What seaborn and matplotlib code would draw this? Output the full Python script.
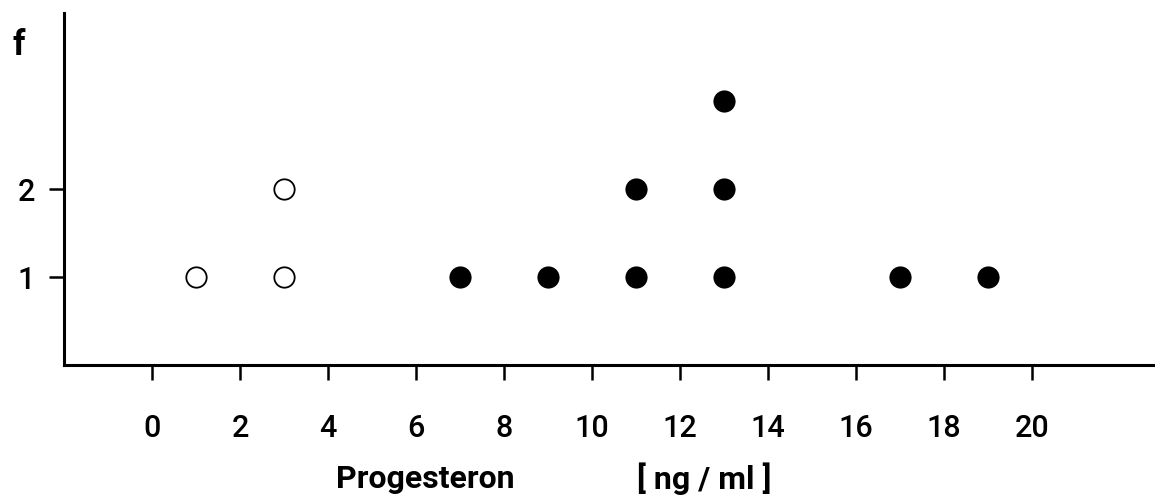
import numpy as np
import pandas as pd
import seaborn as sns
import matplotlib.pyplot as plt

# Progesteron [ng/ml] und Häufigkeit f (offene / gefüllte Kreise)
offen_x = [1, 3, 3]
offen_f = [1, 1, 2]
voll_x = [7, 9, 11, 11, 13, 13, 13, 17, 19]
voll_f = [1, 1, 1, 2, 1, 2, 3, 1, 1]
x_ticks = [0, 2, 4, 6, 8, 10, 12, 14, 16, 18, 20]
y_ticks = [1, 2]

df_offen = pd.DataFrame({"x": offen_x, "f": offen_f})
df_voll = pd.DataFrame({"x": voll_x, "f": voll_f})

sns.set_style("white")
plt.rcParams["font.family"] = ["Roboto", "Liberation Sans", "DejaVu Sans"]
plt.rcParams["font.weight"] = "medium"
plt.rcParams["text.color"] = "black"
plt.rcParams["xtick.color"] = "black"
plt.rcParams["ytick.color"] = "black"

fig = plt.figure(figsize=(11.55, 5.04), dpi=100)
ax = fig.add_axes([0.0555, 0.2758, 0.9445, 0.698])

sns.scatterplot(data=df_offen, x="x", y="f", ax=ax, s=215, facecolor="white",
                edgecolor="black", linewidth=1.3, zorder=3)
sns.scatterplot(data=df_voll, x="x", y="f", ax=ax, s=255, color="black",
                edgecolor="black", linewidth=0, zorder=3)

ax.set_xlim(-2, 22.8)
ax.set_ylim(0, 4)
ax.set_xticks(x_ticks)
ax.set_yticks(y_ticks)

for side in ["top", "right"]:
    ax.spines[side].set_visible(False)
for side in ["left", "bottom"]:
    ax.spines[side].set_linewidth(2.2)
    ax.spines[side].set_color("black")

ax.tick_params(axis="x", direction="out", length=11, width=1.8, pad=24,
               labelsize=22, bottom=True)
ax.tick_params(axis="y", direction="out", length=11, width=1.8, pad=10,
               labelsize=22, left=True)
ax.set_xlabel("")
ax.set_ylabel("")

fig.text(0.0165, 0.91, "f", fontsize=25, fontweight="bold", ha="center", va="center")
fig.text(0.368, 0.05, "Progesteron", fontsize=23, fontweight="bold",
         ha="center", va="center")
fig.text(0.610, 0.05, "[ ng / ml ]", fontsize=23, fontweight="bold",
         ha="center", va="center")

fig.savefig("out.png", dpi=100)
